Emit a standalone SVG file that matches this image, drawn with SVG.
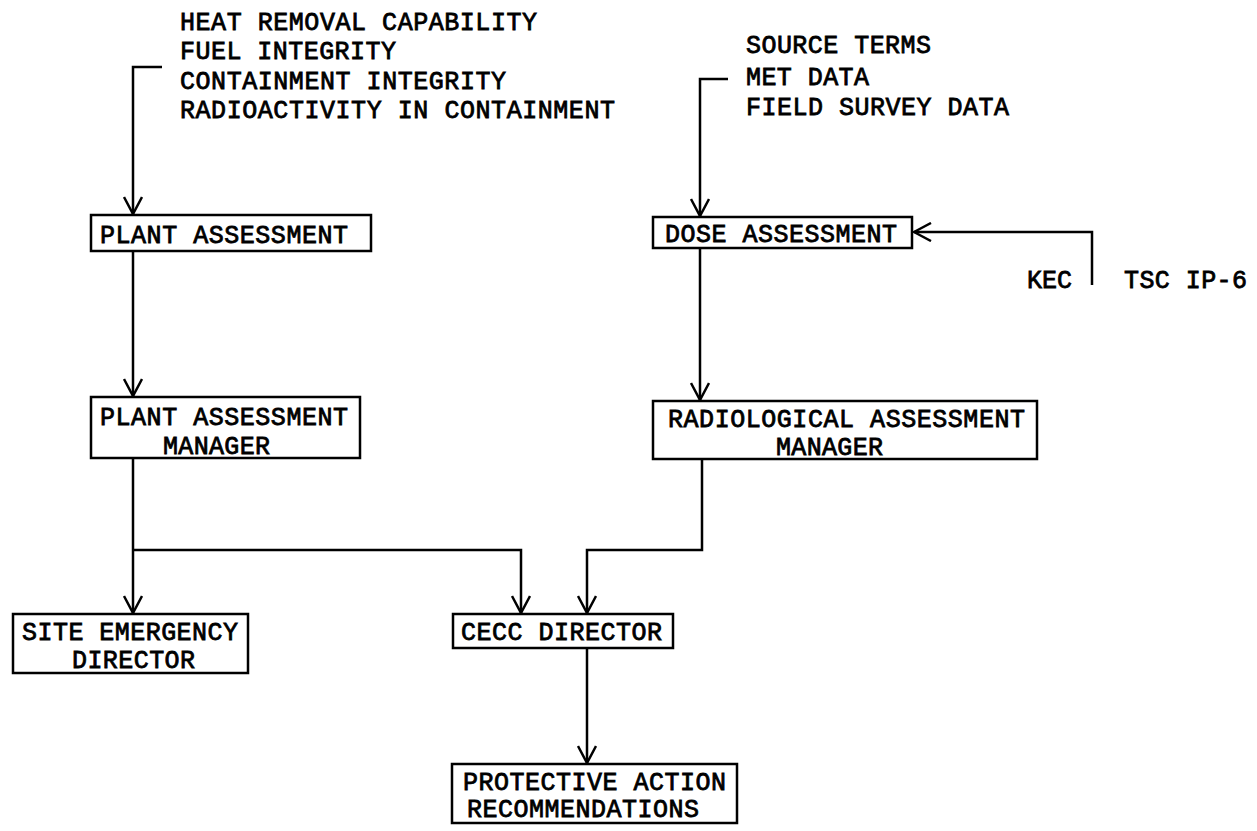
<svg xmlns="http://www.w3.org/2000/svg" width="1257" height="831" viewBox="0 0 1257 831">
<defs>
<style>
.t{font-family:"Liberation Mono","DejaVu Sans Mono",monospace;font-size:25px;fill:#000;stroke:#000;stroke-width:0.8}
.b{fill:none;stroke:#000;stroke-width:2.5}
.c{fill:none;stroke:#000;stroke-width:2.5}
</style>
<marker id="ah" viewBox="0 0 20 20" refX="18" refY="10" markerWidth="20" markerHeight="20" markerUnits="userSpaceOnUse" orient="auto">
<path d="M1,1 L18,10 L1,19" fill="none" stroke="#000" stroke-width="2.5"/>
</marker>
</defs>
<rect width="1257" height="831" fill="#fff"/>
<g id="inputs-plant">
<text class="t" x="180" y="30" textLength="357" lengthAdjust="spacing">HEAT REMOVAL CAPABILITY</text>
<text class="t" x="180" y="59" textLength="216" lengthAdjust="spacing">FUEL INTEGRITY</text>
<text class="t" x="180" y="89" textLength="326" lengthAdjust="spacing">CONTAINMENT INTEGRITY</text>
<text class="t" x="180" y="118" textLength="435" lengthAdjust="spacing">RADIOACTIVITY IN CONTAINMENT</text>
</g>
<g id="inputs-dose">
<text class="t" x="746" y="53" textLength="185" lengthAdjust="spacing">SOURCE TERMS</text>
<text class="t" x="746" y="85" textLength="123" lengthAdjust="spacing">MET DATA</text>
<text class="t" x="746" y="115" textLength="263" lengthAdjust="spacing">FIELD SURVEY DATA</text>
</g>
<g id="inputs-kec">
<text class="t" x="1027" y="288" textLength="45" lengthAdjust="spacing">KEC</text>
<text class="t" x="1124" y="288" textLength="123" lengthAdjust="spacing">TSC IP-6</text>
</g>
<g id="plant-assessment">
<rect class="b" x="91" y="215" width="280" height="36"/>
<text class="t" x="100" y="243" textLength="248" lengthAdjust="spacing">PLANT ASSESSMENT</text>
</g>
<g id="dose-assessment">
<rect class="b" x="653" y="217" width="259" height="31"/>
<text class="t" x="665" y="242" textLength="232" lengthAdjust="spacing">DOSE ASSESSMENT</text>
</g>
<g id="plant-assessment-manager">
<rect class="b" x="91" y="397" width="269" height="61"/>
<text class="t" x="100" y="425" textLength="248" lengthAdjust="spacing">PLANT ASSESSMENT</text>
<text class="t" x="163" y="454" textLength="107" lengthAdjust="spacing">MANAGER</text>
</g>
<g id="radiological-assessment-manager">
<rect class="b" x="653" y="401" width="384" height="58"/>
<text class="t" x="668" y="427" textLength="357" lengthAdjust="spacing">RADIOLOGICAL ASSESSMENT</text>
<text class="t" x="776" y="455" textLength="107" lengthAdjust="spacing">MANAGER</text>
</g>
<g id="site-emergency-director">
<rect class="b" x="13" y="614" width="235" height="59"/>
<text class="t" x="22" y="640" textLength="216" lengthAdjust="spacing">SITE EMERGENCY</text>
<text class="t" x="72" y="668" textLength="123" lengthAdjust="spacing">DIRECTOR</text>
</g>
<g id="cecc-director">
<rect class="b" x="453" y="614" width="220" height="34"/>
<text class="t" x="461" y="640" textLength="201" lengthAdjust="spacing">CECC DIRECTOR</text>
</g>
<g id="protective-action-recommendations">
<rect class="b" x="452" y="764" width="285" height="59"/>
<text class="t" x="463" y="790" textLength="263" lengthAdjust="spacing">PROTECTIVE ACTION</text>
<text class="t" x="467" y="817" textLength="232" lengthAdjust="spacing">RECOMMENDATIONS</text>
</g>
<g id="connectors">
<path class="c" d="M162,67 H133 V214" marker-end="url(#ah)"/>
<path class="c" d="M728,79 H700 V216" marker-end="url(#ah)"/>
<path class="c" d="M1092,285 V232 H914" marker-end="url(#ah)"/>
<path class="c" d="M133,251 V396" marker-end="url(#ah)"/>
<path class="c" d="M700,248 V400" marker-end="url(#ah)"/>
<path class="c" d="M133,458 V613" marker-end="url(#ah)"/>
<path class="c" d="M133,550 H521 V613" marker-end="url(#ah)"/>
<path class="c" d="M702,459 V550 H587 V613" marker-end="url(#ah)"/>
<path class="c" d="M587,648 V763" marker-end="url(#ah)"/>
</g>
</svg>
